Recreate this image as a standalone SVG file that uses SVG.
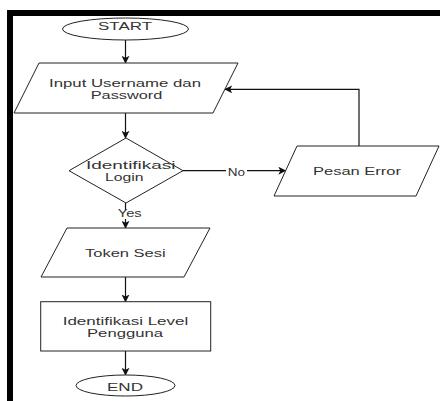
<svg xmlns="http://www.w3.org/2000/svg" width="440" height="401" viewBox="0 0 440 401">
<style>
.s{fill:#fff;stroke:#222;stroke-width:1}
.c{fill:none;stroke:#111;stroke-width:1.2}
.t{font-family:"Liberation Sans",Arial,sans-serif;font-size:10px;fill:#333;text-anchor:start}
.lb{fill:#fff;stroke:none}
</style>
<defs>
<marker id="ah" viewBox="0 0 10 10" refX="9" refY="5" markerWidth="8" markerHeight="8" markerUnits="userSpaceOnUse" orient="auto">
<path d="M0,0 L10,5 L0,10 L2.5,5 Z" fill="#111"/>
</marker>
</defs>
<rect x="0" y="0" width="440" height="401" fill="#fff"/>
<rect x="7" y="10" width="433" height="6" fill="#000"/>
<rect x="7" y="10" width="6" height="391" fill="#000"/>

<g id="connectors">
<line class="c" x1="125.5" y1="40" x2="125.5" y2="63" marker-end="url(#ah)"/>
<line class="c" x1="125.5" y1="113" x2="125.5" y2="138" marker-end="url(#ah)"/>
<line class="c" x1="183" y1="170.7" x2="285.5" y2="170.7" marker-end="url(#ah)"/>
<rect class="lb" x="226" y="164" width="21" height="13"/>
<text class="t" x="227.7" y="176" textLength="17.3" lengthAdjust="spacingAndGlyphs">No</text>
<line class="c" x1="125.5" y1="203" x2="125.5" y2="228" marker-end="url(#ah)"/>
<rect class="lb" x="116" y="210" width="28" height="9"/>
<text class="t" x="117.7" y="217.3" textLength="24" lengthAdjust="spacingAndGlyphs">Yes</text>
<polyline class="c" points="359,146 359,89.3 225,89.3" marker-end="url(#ah)"/>
<line class="c" x1="125.5" y1="277" x2="125.5" y2="301.7" marker-end="url(#ah)"/>
<line class="c" x1="125.5" y1="351" x2="125.5" y2="375" marker-end="url(#ah)"/>
</g>

<g id="start">
<ellipse class="s" cx="125.5" cy="29" rx="63" ry="11"/>
<text class="t" x="98" y="30.3" textLength="54" lengthAdjust="spacingAndGlyphs">START</text>
</g>

<g id="input">
<polygon class="s" points="39,63 238,63 213,113 14,113"/>
<text class="t" x="49" y="86.7" textLength="152" lengthAdjust="spacingAndGlyphs">Input Username dan</text>
<text class="t" x="90.7" y="99.3" textLength="71.6" lengthAdjust="spacingAndGlyphs">Password</text>
</g>

<g id="decision">
<polygon class="s" points="126,138 183,170.7 126,203 69,170.7"/>
<text class="t" x="86" y="169.3" textLength="89.5" lengthAdjust="spacingAndGlyphs">Identifikasi</text>
<text class="t" x="105" y="180.7" textLength="38.5" lengthAdjust="spacingAndGlyphs">Login</text>
</g>

<g id="error">
<polygon class="s" points="297,146 439,146 416,196 274,196"/>
<text class="t" x="313" y="174.5" textLength="88" lengthAdjust="spacingAndGlyphs">Pesan Error</text>
</g>

<g id="token">
<polygon class="s" points="67,228 210,228 184,277 41,277"/>
<text class="t" x="85" y="257" textLength="80.7" lengthAdjust="spacingAndGlyphs">Token Sesi</text>
</g>

<g id="level">
<rect class="s" x="40.7" y="301.7" width="170" height="49.3"/>
<text class="t" x="62.7" y="324.7" textLength="125.6" lengthAdjust="spacingAndGlyphs">Identifikasi Level</text>
<text class="t" x="87" y="336.7" textLength="76" lengthAdjust="spacingAndGlyphs">Pengguna</text>
</g>

<g id="end">
<ellipse class="s" cx="125.5" cy="385.5" rx="49.5" ry="10.5"/>
<text class="t" x="107" y="391" textLength="36" lengthAdjust="spacingAndGlyphs">END</text>
</g>
</svg>
